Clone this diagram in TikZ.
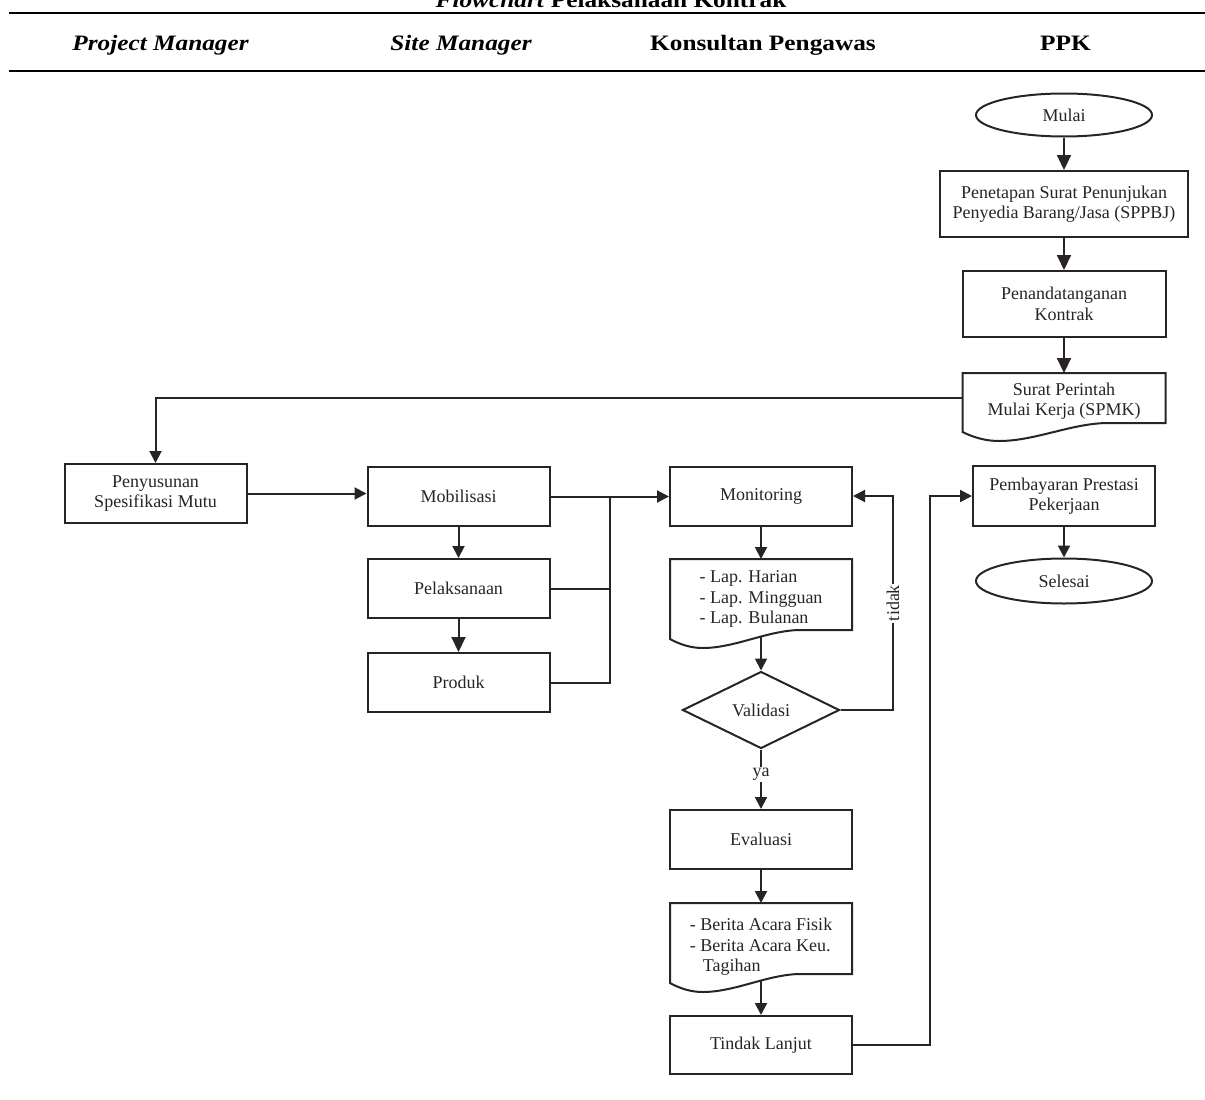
\documentclass[tikz,border=0pt]{standalone}
\usepackage{fontspec}
\setmainfont{Liberation Serif}
\newfontfamily\headfont[FakeStretch=1.15]{Liberation Serif}
\usetikzlibrary{arrows.meta,calc,shapes.geometric}
\definecolor{ink}{RGB}{40,36,37}

% Document symbol drawn around a text node:
% #1 node name, #2 half width, #3 distance from text centre up to the top,
% #4 distance from text centre down to the right-hand bottom corner.
\newcommand\docoutline[4]{%
  \draw[ink line]
    ($(#1.center)+(#2,#4)$) -- ($(#1.center)+(#2,-#3)$)
    -- ($(#1.center)+(-#2,-#3)$) -- ($(#1.center)+(-#2,#4+9)$)
    .. controls ($(#1.center)+(-0.88*#2,#4+15)$) and ($(#1.center)+(-0.76*#2,#4+18)$)
    .. ($(#1.center)+(-0.64*#2,#4+18)$)
    .. controls ($(#1.center)+(-0.28*#2,#4+18)$) and ($(#1.center)+(0.08*#2,#4)$)
    .. ($(#1.center)+(0.44*#2,#4)$) -- cycle;
  \coordinate (#1-top) at ($(#1.center)+(0,-#3)$);
  \coordinate (#1-bot) at ($(#1.center)+(0,#4+6)$);
  \coordinate (#1-west) at ($(#1.center)+(-#2,{(#4-#3)/2})$);
}

\begin{document}
\begin{tikzpicture}[x=1pt,y=-1pt,
  every node/.style={text=ink, font=\fontsize{18}{20.5}\selectfont},
  ink line/.style={draw=ink, line width=2pt},
  box/.style={ink line, rectangle, minimum width=182pt, minimum height=59pt,
    inner sep=2pt, align=center},
  terminal/.style={ink line, ellipse, minimum width=176pt, minimum height=43pt, inner sep=0pt},
  decision/.style={ink line, diamond, minimum width=157pt, minimum height=77pt,
    aspect=2, inner sep=0pt},
  doctext/.style={inner sep=0pt, align=left},
  arr/.style={ink line, -{Triangle[length=12pt,width=12pt]}},
  bigarr/.style={ink line, -{Triangle[length=15pt,width=14pt]}},
  head/.style={font=\headfont\bfseries\fontsize{22}{26}\selectfont, text=black, anchor=base},
  rule/.style={draw=black, line width=2.5pt},
  tag/.style={fill=white, inner sep=1.5pt}
]
\useasboundingbox (0,0) rectangle (1205,1100);

% Title and lane headings
\node[head] (title) at (611,7) {\itshape Flowchart\/\upshape{} Pelaksanaan Kontrak};
\draw[rule] (9,13) -- (1205,13);
\node[head] (hpm) at (160.5,50) {\itshape Project Manager};
\node[head] (hsm) at (461,50) {\itshape Site Manager};
\node[head] (hkp) at (763,50) {Konsultan Pengawas};
\node[head] (hppk) at (1065.5,50) {PPK};
\draw[rule] (9,71) -- (1205,71);

% PPK lane
\node[terminal] (mulai) at (1064,115) {Mulai};
\node[box, minimum width=248pt, minimum height=66pt] (sppbj) at (1064,204)
  {Penetapan Surat Penunjukan\\Penyedia Barang/Jasa (SPPBJ)};
\node[box, minimum width=203pt, minimum height=66pt] (ttd) at (1064,304)
  {Penandatanganan\\Kontrak};
\node[doctext, align=center] (spmk) at (1064,401) {Surat Perintah\\Mulai Kerja (SPMK)};
\docoutline{spmk}{101.5}{28}{22}
\node[box, minimum height=60pt] (bayar) at (1064,496) {Pembayaran Prestasi\\Pekerjaan};
\node[terminal, minimum height=45pt] (selesai) at (1064,581) {Selesai};

% Project Manager lane
\node[box] (susun) at (155.5,493.5) {Penyusunan\\Spesifikasi Mutu};

% Site Manager lane
\node[box] (mob) at (458.5,496.5) {Mobilisasi};
\node[box] (pel) at (458.5,588.5) {Pelaksanaan};
\node[box] (prod) at (458.5,682.5) {Produk};
\coordinate (bus) at (610,496.5);

% Konsultan Pengawas lane
\node[box] (mon) at (761,496) {Monitoring};
\node[doctext] (lap) at (761,599) {- Lap. Harian\\- Lap. Mingguan\\- Lap. Bulanan};
\docoutline{lap}{91}{40}{31}
\node[decision] (val) at (761,710) {Validasi};
\node[box] (eval) at (761,839.5) {Evaluasi};
\node[doctext] (ba) at (761,947)
  {- Berita Acara Fisik\\- Berita Acara Keu.\\\hspace*{13pt}Tagihan};
\docoutline{ba}{91}{44}{27}
\node[box, minimum height=58pt] (tl) at (761,1045) {Tindak Lanjut};

% Connectors
\draw[bigarr] (mulai.south) -- (sppbj.north);
\draw[bigarr] (sppbj.south) -- (ttd.north);
\draw[bigarr] (ttd.south) -- (spmk-top);
\draw[arr] (spmk-west) -| (susun.north);
\draw[arr] (susun.east) -- (susun.east -| mob.west);
\draw[arr] (mob.south) -- (pel.north);
\draw[bigarr] (pel.south) -- (prod.north);
\draw[arr] (mob.east) -- (mob.east -| mon.west);
\draw[ink line] (pel.east) -- (pel.east -| bus);
\draw[ink line] (prod.east) -| (bus);
\draw[arr] (mon.south) -- (lap-top);
\draw[arr] (lap-bot) -- (val.north);
\draw[arr] (val.south) -- node[tag, pos=0.42] {ya} (eval.north);
\draw[arr] (val.east) -- ++(52.5,0) |- node[tag, pos=0.25, rotate=90] {tidak} (mon.east);
\draw[arr] (eval.south) -- (ba-top);
\draw[arr] (ba-bot) -- (tl.north);
\draw[arr] (tl.east) -- ++(77,0) |- (bayar.west);
\draw[arr] (bayar.south) -- (selesai.north);
\end{tikzpicture}
\end{document}
